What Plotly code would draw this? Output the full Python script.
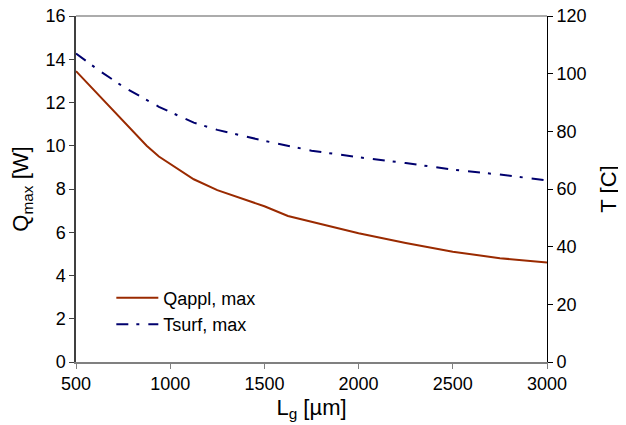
import plotly.graph_objects as go

lg_q = [500, 625, 750, 875, 940, 1000, 1125, 1250, 1500, 1625, 2000, 2250, 2500, 2750, 3000]
q_appl = [13.45, 12.3, 11.1, 10.0, 9.5, 9.15, 8.45, 7.95, 7.2, 6.75, 5.95, 5.5, 5.1, 4.8, 4.6]

lg_t = [500, 625, 750, 940, 1125, 1250, 1500, 1625, 1750, 2000, 2250, 2500, 2750, 3000]
t_surf = [107, 101, 95.5, 88.5, 83, 80.5, 76.7, 75, 73.3, 71, 69, 66.7, 65, 63]

FONT = "Liberation Sans, Arial, sans-serif"

fig = go.Figure()
fig.add_trace(go.Scatter(x=lg_q, y=q_appl, mode="lines", name="Qappl, max",
                         line=dict(color="#9A2A00", width=2)))
fig.add_trace(go.Scatter(x=lg_t, y=t_surf, mode="lines", name="Tsurf, max", yaxis="y2",
                         line=dict(color="#00006E", width=2, dash="12px,8px,3px,9px")))

fig.update_layout(
    width=618, height=417,
    margin=dict(l=68, r=79, t=8, b=63, autoexpand=False),
    paper_bgcolor="white", plot_bgcolor="white",
    font=dict(family=FONT, size=18, color="black"),
    showlegend=True,
    legend=dict(x=0.075, y=0.238, xanchor="left", yanchor="top", itemwidth=42,
                bgcolor="rgba(0,0,0,0)", font=dict(size=18), tracegroupgap=0),
    xaxis=dict(range=[500, 3000], tickvals=[500, 1000, 1500, 2000, 2500, 3000],
               showgrid=False, zeroline=False, showline=True, linecolor="#808080", linewidth=1.5,
               ticks="outside", ticklen=5, tickcolor="#808080", mirror=False, automargin=False,
               ticklabeloverflow="allow",
               title=dict(text="L<sub>g</sub> [µm]", standoff=6)),
    yaxis=dict(range=[0, 16], tickvals=[0, 2, 4, 6, 8, 10, 12, 14, 16], automargin=False,
               showgrid=False, zeroline=False, showline=True, linecolor="#404040", linewidth=1.5,
               ticks="outside", ticklen=5, tickcolor="#404040", ticklabeloverflow="allow",
               title=dict(text="Q<sub>max</sub> [W]", standoff=14)),
    yaxis2=dict(range=[0, 120], tickvals=[0, 20, 40, 60, 80, 100, 120], overlaying="y", side="right",
                showgrid=False, zeroline=False, showline=True, linecolor="black", linewidth=1,
                ticks="outside", ticklen=5, tickcolor="black", automargin=False,
                ticklabeloverflow="allow",
                title=dict(text="T [C]", standoff=14)),
)

fig.add_shape(type="line", xref="paper", yref="paper", x0=0, x1=1, y0=1, y1=1,
              line=dict(color="#909090", width=1.5))

fig.write_html("out.html")
